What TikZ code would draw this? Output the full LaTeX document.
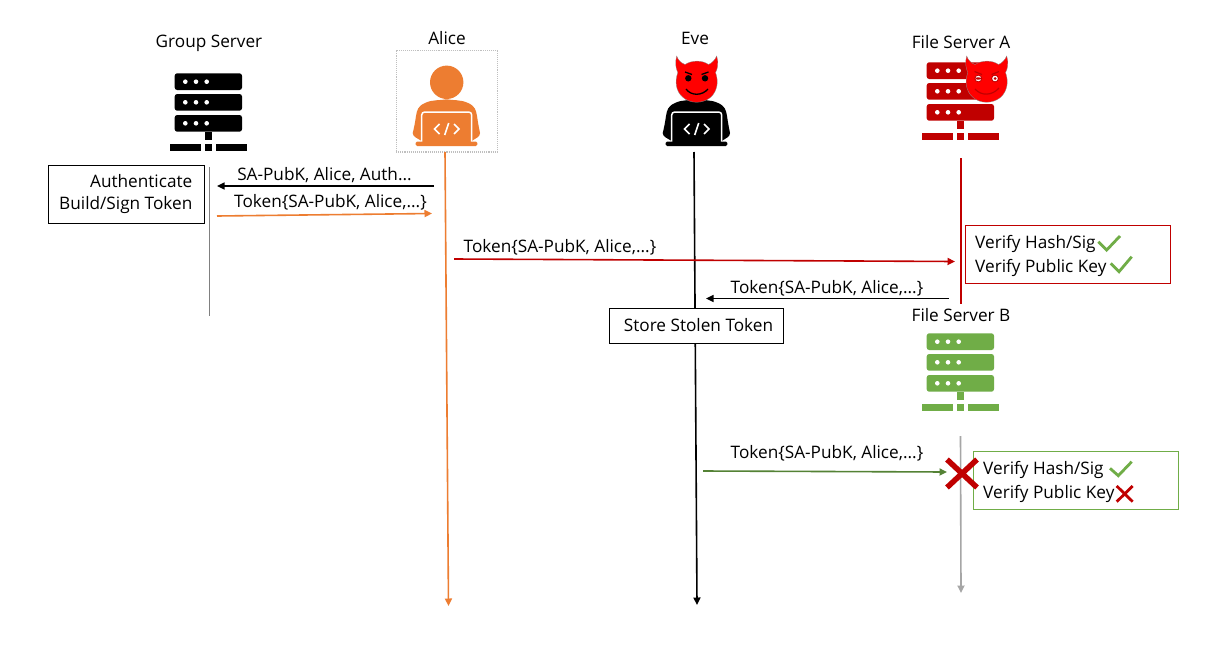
\documentclass[tikz,border=0pt]{standalone}
\usepackage{fontspec}
\setmainfont{Open Sans}
\usetikzlibrary{arrows.meta}
\definecolor{aliceor}{HTML}{ED7D31}
\definecolor{darkred}{HTML}{C00000}
\definecolor{fgreen}{HTML}{70AD47}
\definecolor{dgreen}{HTML}{548235}
\definecolor{devilred}{HTML}{FF0000}
\definecolor{lgray}{HTML}{A6A6A6}
\tikzset{
  lbl/.style={inner sep=0pt,font=\fontsize{17.2}{20}\selectfont,text=black},
  stepbox/.style={draw=black,line width=0.9pt,fill=white,inner sep=0pt,font=\fontsize{17.2}{24}\selectfont},
  lifeline/.style={line width=1.6pt},
  msg/.style={line width=1.6pt,-{Triangle[length=7.5pt,width=7pt]}},
  tick/.style={draw=fgreen,line width=2.8pt,fill=none},
  cross/.style={draw=darkred,line cap=butt},
}
\newcommand{\servericon}[3]{% dx, dy, colour
\begin{scope}[shift={(#1,#2)}]
  \fill[#3,rounded corners=2.5pt] (174.7,73.3) rectangle (242,90);
  \fill[#3,rounded corners=2.5pt] (174.7,94) rectangle (242,110.7);
  \fill[#3,rounded corners=2.5pt] (174.7,115) rectangle (242,131.7);
  \fill[#3] (205.3,131.7) rectangle (211.7,140);
  \fill[#3] (170.3,144.3) rectangle (201,150.7);
  \fill[#3] (205.3,144.3) rectangle (211.7,150.7);
  \fill[#3] (216,144.3) rectangle (246.7,150.7);
  \foreach \yy in {81.7,102.3,123.3}{
    \foreach \xx in {185.3,196,206.7}{\fill[white] (\xx,\yy) circle (2.3);}}
\end{scope}}
\newcommand{\coderbody}[2]{% dx, colour
\begin{scope}[shift={(#1,0)}]
  \fill[#2] (446.7,99.3) .. controls (440,100.5) and (432,99.5) .. (425,103)
     .. controls (418,106) and (417,110) .. (416,116)
     .. controls (415,123) and (414,128) .. (412.7,133)
     .. controls (413,137) and (417,138) .. (421.7,141)
     -- (471.7,141)
     .. controls (476,138) and (480,137) .. (480,133)
     .. controls (479,128) and (478,123) .. (477,116)
     .. controls (476,110) and (475,106) .. (468,103)
     .. controls (461,99.5) and (453,100.5) .. (446.7,99.3) -- cycle;
  \draw[white,line width=1.5pt,rounded corners=3pt,fill=#2] (421.7,142) -- (421.7,112) -- (471.7,112) -- (471.7,142);
  \fill[#2,rounded corners=1.5pt] (415.7,141.5) rectangle (477.3,146);
  \draw[white,line width=1.6pt] (439.5,124) -- (434.5,129) -- (439.5,134);
  \draw[white,line width=1.6pt] (454,124) -- (459,129) -- (454,134);
  \draw[white,line width=1.6pt] (448.7,123) -- (444.7,135);
\end{scope}}
\newcommand{\devilshape}[1]{% dx
  \begin{scope}[shift={(#1,0)}]
  \fill[devilred,draw=black!45,line width=0.3pt]
    (676.7,56) .. controls (678,60) and (681,63) .. (685,64.5)
    .. controls (692,60) and (702,60) .. (708.5,64.5)
    .. controls (712,63) and (715,60) .. (716.7,56)
    .. controls (719,63) and (717.5,69) .. (715.5,72.5)
    .. controls (719,82) and (717,91) .. (711,97)
    .. controls (703,104) and (690,104) .. (682.5,97)
    .. controls (676,91) and (674.5,82) .. (677.8,72.5)
    .. controls (675.5,68) and (675,62) .. (676.7,56) -- cycle;
  \end{scope}}
\begin{document}
\begin{tikzpicture}[x=1pt,y=-1pt]
\useasboundingbox (0,0) rectangle (1228,648);
\fill[white] (0,0) rectangle (1228,648);

% actor labels
\node[lbl] (lgs) at (209,43.5) {Group Server};
\node[lbl] (lal) at (447,38.5) {Alice};
\node[lbl] (lev) at (695,38.5) {Eve};
\node[lbl] (lfa) at (961,42.5) {File Server A};
\node[lbl] (lfb) at (961,315.5) {File Server B};

% dotted selection box
\node[draw=black!25,densely dotted,line width=1.1pt,minimum width=101.3pt,minimum height=101.3pt,inner sep=0pt] (alicebox) at (446.7,101.3) {};

% lifeline ends
\coordinate (gs1) at (209.5,167); \coordinate (gs2) at (209.5,316);
\coordinate (al1) at (445,152);   \coordinate (al2) at (448.5,606);
\coordinate (ev1) at (694,152);   \coordinate (ev2) at (697,605);
\coordinate (fa1) at (961,158);   \coordinate (fa2) at (961,304);
\coordinate (fb1) at (960.5,436); \coordinate (fb2) at (961,593);

\draw[line width=0.8pt,color=black!50] (gs1) -- (gs2);
\draw[lifeline,aliceor,-{Triangle[length=7.5pt,width=7pt]}] (al1) -- (al2);
\draw[lifeline,black,-{Triangle[length=7.5pt,width=7pt]}] (ev1) -- (ev2);
\draw[line width=1.9pt,darkred] (fa1) -- (fa2);
\draw[lifeline,lgray,-{Triangle[length=7.5pt,width=7pt]}] (fb1) -- (fb2);

% icons
\servericon{0}{0}{black}
\servericon{752}{-11}{darkred}
\servericon{752}{260}{fgreen}
\fill[aliceor] (446.7,82.3) circle (16.7);
\coderbody{0}{aliceor}
\coderbody{250}{black}

% Eve's devil head
\devilshape{0}
\fill (688.3,78.3) circle (3.2);
\fill (705,78.3) circle (3.2);
\draw[line width=1.3pt] (685,72) -- (692,74.5);
\draw[line width=1.3pt] (708.5,72) -- (701.5,74.5);
\draw[line width=1.3pt] (686,89) .. controls (691,96) and (702,96) .. (708,89);

% File Server A's devil head
\devilshape{290}
\begin{scope}[shift={(290,0)}]
  \fill[white,draw=darkred,line width=0.9pt] (688.3,78.5) circle (3.4);
  \fill[white,draw=darkred,line width=0.9pt] (705,78.5) circle (3.4);
  \fill[darkred] (688.3,78.5) ellipse (2.8 and 1.2);
  \fill[darkred] (705,78.5) circle (1.5);
  \draw[darkred,line width=1.2pt] (684.5,71.5) -- (692,74.5);
  \draw[darkred,line width=1.2pt] (709,71.5) -- (701.5,74.5);
  \draw[darkred,line width=1.2pt] (685,89) .. controls (691,96) and (702,96) .. (709,88);
\end{scope}

% message end points
\coordinate (m1a) at (434,186);   \coordinate (m1b) at (217,186);
\coordinate (m2a) at (217,216);   \coordinate (m2b) at (432,213.5);
\coordinate (m3a) at (454,259);   \coordinate (m3b) at (955,261.5);
\coordinate (m4a) at (949,298.5); \coordinate (m4b) at (706,298.5);
\coordinate (m5a) at (703,471);   \coordinate (m5b) at (947,472);

\draw[msg,black] (m1a) -- (m1b);
\draw[msg,aliceor] (m2a) -- (m2b);
\draw[msg,darkred] (m3a) -- (m3b);
\draw[msg,black] (m4a) -- (m4b);
\draw[msg,dgreen] (m5a) -- (m5b);

% message labels
\node[lbl] (t1) at (324.5,175.5) {SA-PubK, Alice, Auth...};
\node[lbl] (t2) at (330.5,202.5) {Token\{SA-PubK, Alice,...\}};
\node[lbl] (t3) at (560,247.5) {Token\{SA-PubK, Alice,...\}};
\node[lbl] (t4) at (827,288.5) {Token\{SA-PubK, Alice,...\}};
\node[lbl] (t5) at (827,453.5) {Token\{SA-PubK, Alice,...\}};

% step boxes
\node[stepbox,minimum width=156pt,minimum height=58pt,anchor=north west] (auth) at (48,165) {};
\node[lbl,anchor=east] (a1) at (192.5,181) {Authenticate};
\node[lbl,anchor=east] (a2) at (192.5,205.5) {Build/Sign Token};
\node[stepbox,minimum width=174pt,minimum height=35pt] (store) at (696.5,325.5) {\hspace*{4pt}Store Stolen Token};

\node[draw=darkred,line width=0.9pt,fill=white,minimum width=205.4pt,minimum height=58pt,inner sep=0pt] (vra) at (1068,254.3) {};
\node[lbl,anchor=west] (v1) at (975,243.5) {Verify Hash/Sig};
\node[lbl,anchor=west] (v2) at (975,267.5) {Verify Public Key};
\draw[tick] (1098.3,241.7) -- (1106.7,250) -- (1120,236);
\draw[tick] (1110.7,263.3) -- (1119,271.7) -- (1131.7,256.7);

\node[draw=fgreen,line width=0.9pt,fill=white,minimum width=205pt,minimum height=58pt,inner sep=0pt] (vrb) at (1075.8,480.3) {};
\node[lbl,anchor=west] (v3) at (983,469.5) {Verify Hash/Sig};
\node[lbl,anchor=west] (v4) at (983,493.5) {Verify Public Key};
\draw[tick] (1110,468.3) -- (1118.3,475.7) -- (1131.7,461.7);
\draw[cross,line width=2.8pt] (1116.7,486) -- (1132.7,501.7);
\draw[cross,line width=2.8pt] (1132.7,486) -- (1116.7,501.7);

% big cross
\draw[cross,line width=5.5pt] (947,459.5) -- (977,487.5);
\draw[cross,line width=5.5pt] (977,459.5) -- (947,487.5);
\end{tikzpicture}
\end{document}
